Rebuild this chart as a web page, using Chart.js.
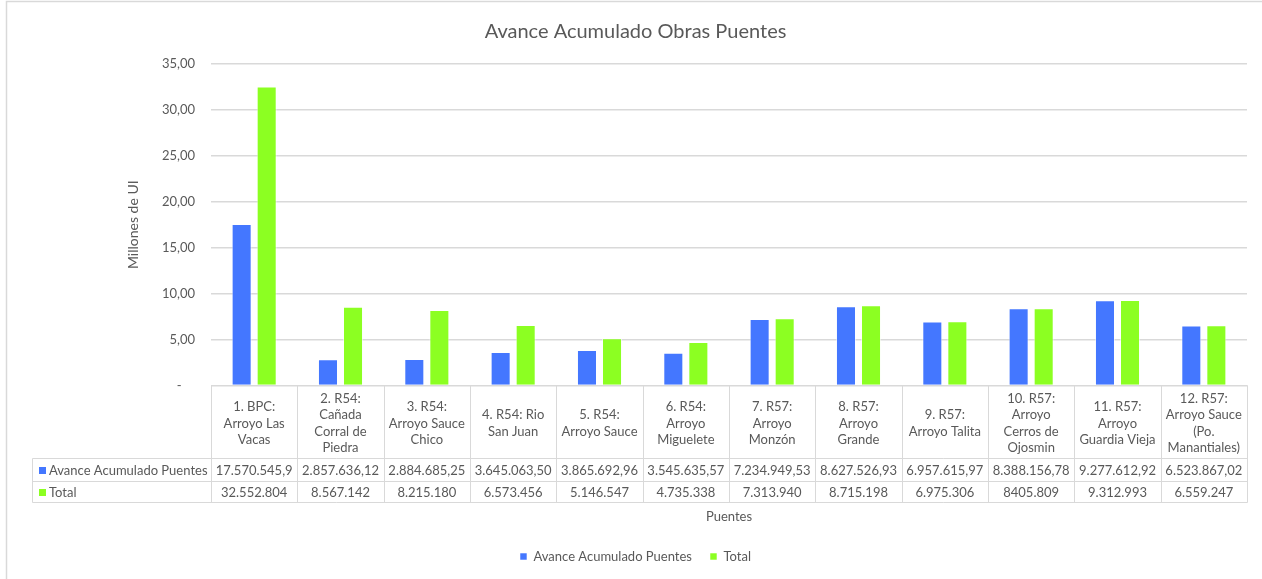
<!DOCTYPE html>
<html><head><meta charset="utf-8">
<script src="https://cdn.jsdelivr.net/npm/chart.js@4.4.1/dist/chart.umd.min.js"></script>
<style>html,body{margin:0;padding:0;background:#fff;overflow:hidden}#wrap{width:1262px;height:579px;position:relative}canvas{display:block}</style>
</head><body><div id="wrap"><canvas id="c" width="1262" height="579"></canvas></div>
<script>
const categories = [
  ["1. BPC:", "Arroyo Las", "Vacas"],
  ["2. R54:", "Cañada", "Corral de", "Piedra"],
  ["3. R54:", "Arroyo Sauce", "Chico"],
  ["4. R54: Rio", "San Juan"],
  ["5. R54:", "Arroyo Sauce"],
  ["6. R54:", "Arroyo", "Miguelete"],
  ["7. R57:", "Arroyo", "Monzón"],
  ["8. R57:", "Arroyo", "Grande"],
  ["9. R57:", "Arroyo Talita"],
  ["10. R57:", "Arroyo", "Cerros de", "Ojosmin"],
  ["11. R57:", "Arroyo", "Guardia Vieja"],
  ["12. R57:", "Arroyo Sauce", "(Po.", "Manantiales)"]
];
const seriesNames = ["Avance Acumulado Puentes", "Total"];
// values in millions of UI
const avanceValues = [17.5705459, 2.85763612, 2.88468525, 3.6450635, 3.86569296, 3.54563557, 7.23494953, 8.62752693, 6.95761597, 8.38815678, 9.27761292, 6.52386702];
const totalValues = [32.552804, 8.567142, 8.21518, 6.573456, 5.146547, 4.735338, 7.31394, 8.715198, 6.975306, 8.405809, 9.312993, 6.559247];
// data table texts, as printed
const avanceLabels = ["17.570.545,9", "2.857.636,12", "2.884.685,25", "3.645.063,50", "3.865.692,96", "3.545.635,57", "7.234.949,53", "8.627.526,93", "6.957.615,97", "8.388.156,78", "9.277.612,92", "6.523.867,02"];
const totalLabels = ["32.552.804", "8.567.142", "8.215.180", "6.573.456", "5.146.547", "4.735.338", "7.313.940", "8.715.198", "6.975.306", "8405.809", "9.312.993", "6.559.247"];
const yMin = 0, yMax = 35, yStep = 5;

const BLUE = "#4477FF", GREEN = "#8CFF22";
const TEXT = "#595959", LINE = "#D9D9D9";
const FONT = "Lato, 'Liberation Sans', sans-serif";

const frame = {
  id: "frame",
  beforeDraw(chart) {
    const ctx = chart.ctx;
    ctx.save();
    ctx.fillStyle = "#fff";
    ctx.fillRect(0, 0, chart.width, chart.height);
    ctx.strokeStyle = LINE;
    ctx.lineWidth = 1.5;
    ctx.strokeRect(6.5, 1.5, chart.width + 20, chart.height + 20);
    ctx.restore();
  }
};

const dataTable = {
  id: "dataTable",
  afterDraw(chart) {
    const ctx = chart.ctx, xs = chart.scales.x, area = chart.chartArea;
    const n = categories.length;
    const w = (area.right - area.left) / n;
    const top = Math.round(area.bottom) + 0.5;
    const hdr = top + 73, r1 = hdr + 23, r2 = r1 + 21;
    const tableLeft = 32.5;
    const L = Math.round(area.left) + 0.5, R = Math.round(area.right) + 0.5;
    ctx.save();
    ctx.strokeStyle = LINE;
    ctx.lineWidth = 1;
    ctx.beginPath();
    ctx.moveTo(L, top); ctx.lineTo(R, top);
    [hdr, r1, r2].forEach(y => { ctx.moveTo(tableLeft, y); ctx.lineTo(R, y); });
    for (let i = 0; i <= n; i++) {
      const x = Math.round(area.left + i * w) + 0.5;
      ctx.moveTo(x, top); ctx.lineTo(x, r2);
    }
    ctx.moveTo(tableLeft, hdr); ctx.lineTo(tableLeft, r2);
    ctx.stroke();

    ctx.font = "13px " + FONT;
    ctx.fillStyle = TEXT;
    ctx.textBaseline = "middle";
    const rows = [[avanceLabels, BLUE, seriesNames[0], (hdr + r1) / 2], [totalLabels, GREEN, seriesNames[1], (r1 + r2) / 2]];
    rows.forEach(([labels, color, name, y]) => {
      ctx.fillStyle = color;
      ctx.fillRect(39, Math.round(y) - 3, 7, 7);
      ctx.fillStyle = TEXT;
      ctx.textAlign = "left";
      ctx.fillText(name, 49, y + 0.5);
      ctx.textAlign = "center";
      labels.forEach((t, i) => ctx.fillText(t, xs.getPixelForValue(i), y + 0.5));
    });
    ctx.restore();
  }
};

new Chart(document.getElementById("c"), {
  type: "bar",
  data: {
    labels: categories,
    datasets: [
      { label: seriesNames[0], data: avanceValues, backgroundColor: BLUE, borderColor: "rgba(255,255,255,0.55)", borderWidth: 1 },
      { label: seriesNames[1], data: totalValues, backgroundColor: GREEN, borderColor: "rgba(255,255,255,0.55)", borderWidth: 1 }
    ]
  },
  options: {
    responsive: false,
    animation: false,
    devicePixelRatio: 1,
    categoryPercentage: 0.58,
    barPercentage: 0.8,
    layout: { padding: { left: 24, right: 15, top: 0, bottom: 6 } },
    plugins: {
      title: {
        display: true,
        text: "Avance Acumulado Obras Puentes",
        color: TEXT,
        font: { family: FONT, size: 20, weight: "normal" },
        padding: { top: 20, bottom: 20 }
      },
      legend: {
        position: "bottom",
        labels: {
          color: TEXT,
          font: { family: FONT, size: 13 },
          boxWidth: 7, boxHeight: 7,
          padding: 18
        }
      },
      tooltip: { enabled: false }
    },
    scales: {
      x: {
        grid: { display: false, drawTicks: false },
        border: { display: false },
        ticks: {
          color: TEXT,
          font: { family: FONT, size: 13, lineHeight: 16.3 / 13 },
          maxRotation: 0, minRotation: 0, autoSkip: false,
          crossAlign: "center",
          padding: 13.5
        },
        title: {
          display: true, text: "Puentes", color: TEXT,
          font: { family: FONT, size: 13 },
          padding: { top: 0, bottom: 7.8 }
        },
        afterFit(scale) { scale.height = 146.6; }
      },
      y: {
        min: yMin, max: yMax,
        ticks: {
          stepSize: yStep,
          color: TEXT,
          font: { family: FONT, size: 13 },
          padding: 16,
          callback: v => v === 0 ? "-    " : v.toFixed(2).replace(".", ",")
        },
        grid: { color: LINE, lineWidth: 1.5, drawTicks: false },
        border: { display: false },
        title: {
          display: true, text: "Millones de UI", color: TEXT,
          font: { family: FONT, size: 14 },
          padding: { top: 100.6, bottom: 0 }
        },
        afterFit(scale) { scale.width = 187; }
      }
    }
  },
  plugins: [frame, dataTable]
});
</script></body></html>
